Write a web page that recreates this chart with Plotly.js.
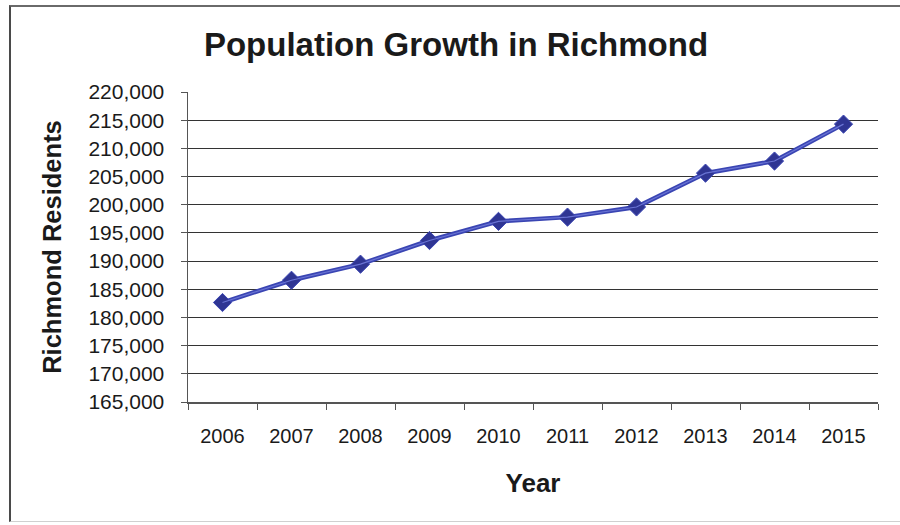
<!DOCTYPE html>
<html>
<head>
<meta charset="utf-8">
<script src="https://cdn.plot.ly/plotly-3.0.1.min.js"></script>
<style>
  html, body { margin: 0; padding: 0; background: #fff; overflow: hidden; }
  #wrap { position: relative; width: 900px; height: 525px; }
  #chart { position: absolute; left: 0; top: 0; width: 900px; height: 525px; }
  #frame { position: absolute; left: 9px; top: 5px; width: 920px; height: 514px;
           border-left: 2px solid #4a4a4a; border-top: 2px solid #6a6a6a;
           border-bottom: 1px solid #d0d0d0; pointer-events: none; }
</style>
</head>
<body>
<div id="wrap">
  <div id="chart"></div>
  <div id="frame"></div>
</div>
<script>
// Data
const years = ["2006", "2007", "2008", "2009", "2010", "2011", "2012", "2013", "2014", "2015"];
const residents = [182650, 186600, 189450, 193650, 197050, 197800, 199600, 205600, 207750, 214300];
const yTickValues = [165000, 170000, 175000, 180000, 185000, 190000, 195000, 200000, 205000, 210000, 215000, 220000];

const FONT = "Liberation Sans, Arial, Helvetica, sans-serif";

const traces = [
  {
    x: years, y: residents, type: "scatter", mode: "lines+markers",
    line: { color: "#3a45b3", width: 4.5 },
    marker: { symbol: "diamond", size: 14, color: "#2f3593", line: { color: "#3a45b3", width: 1 } },
    showlegend: false, hoverinfo: "x+y"
  },
  {
    x: years, y: residents, type: "scatter", mode: "lines",
    line: { color: "#6a74d4", width: 1.2 },
    showlegend: false, hoverinfo: "skip"
  }
];

const layout = {
  width: 900, height: 525,
  margin: { l: 188, r: 22, t: 92, b: 123 },
  paper_bgcolor: "#ffffff", plot_bgcolor: "#ffffff",
  font: { family: FONT, color: "#1a1a1a" },
  title: {
    text: "<b>Population Growth in Richmond</b>",
    font: { family: FONT, size: 33, color: "#1a1a1a" },
    x: 456 / 900, xanchor: "center", xref: "container",
    y: 1 - 44 / 525, yanchor: "middle", yref: "container"
  },
  xaxis: {
    type: "category",
    range: [-0.5, 9.5],
    tickson: "boundaries",
    ticks: "outside", ticklen: 6, tickcolor: "#555", tickwidth: 1,
    showline: true, linecolor: "#555", linewidth: 1.5,
    showgrid: false, zeroline: false,
    tickfont: { family: FONT, size: 20, color: "#1a1a1a" },
    ticklabelstandoff: 15,
    title: { text: "<b>Year</b>", font: { family: FONT, size: 26, color: "#1a1a1a" }, standoff: 28 },
    fixedrange: true
  },
  yaxis: {
    range: [165000, 220000],
    tickvals: yTickValues,
    tickformat: ",d",
    ticks: "outside", ticklen: 6, tickcolor: "#555", tickwidth: 1,
    showline: true, linecolor: "#555", linewidth: 1.5,
    showgrid: true, gridcolor: "#333", gridwidth: 1,
    zeroline: false,
    tickfont: { family: FONT, size: 21, color: "#1a1a1a" },
    ticklabelstandoff: 12,
    title: { text: "<b>Richmond Residents</b>", font: { family: FONT, size: 25.5, color: "#1a1a1a" }, standoff: 19 },
    fixedrange: true
  }
};

Plotly.newPlot("chart", traces, layout, { displayModeBar: false, staticPlot: true });
</script>
</body>
</html>
